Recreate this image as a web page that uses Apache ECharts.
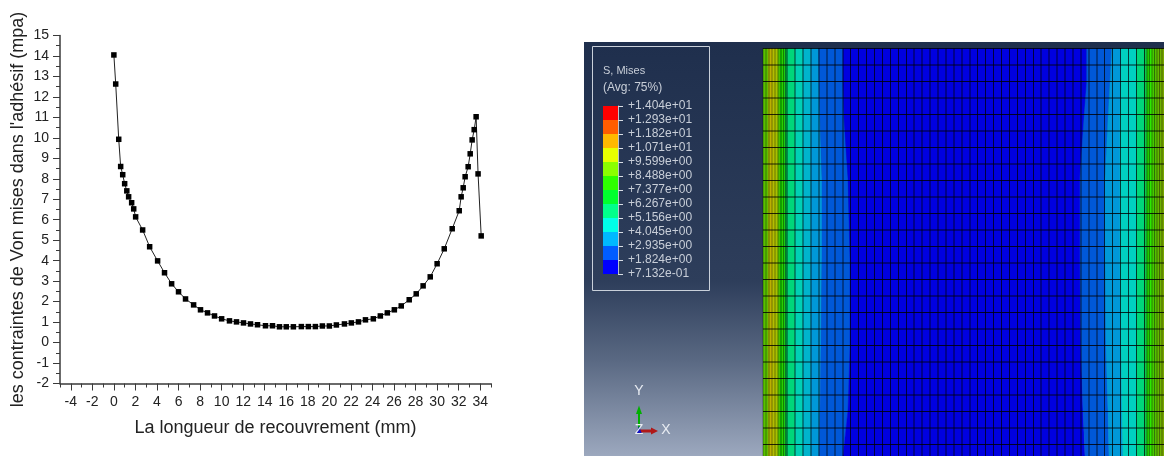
<!DOCTYPE html>
<html><head><meta charset="utf-8">
<style>html,body{margin:0;padding:0;background:#fff}#c{width:1164px;height:456px}</style>
<script src="https://cdn.jsdelivr.net/npm/echarts@6/dist/echarts.min.js"></script>
</head><body><div id="c"></div>
<script>
// ---- stress curve
const overlapMm = [0,0.17,0.45,0.63,0.82,1.0,1.2,1.37,1.65,1.84,2.02,2.67,3.32,4.06,4.7,5.36,6.0,6.65,7.4,8.04,8.69,9.34,10.0,10.73,11.38,12.03,12.68,13.33,14.07,14.72,15.37,16.0,16.66,17.4,18.05,18.7,19.35,20.0,20.65,21.4,22.04,22.7,23.35,24.08,24.73,25.38,26.03,26.67,27.41,28.06,28.7,29.36,30.0,30.66,31.4,32.05,32.23,32.42,32.6,32.88,33.07,33.25,33.44,33.62,33.8,34.09];
const misesMpa = [14.05,12.63,9.93,8.6,8.2,7.76,7.41,7.12,6.83,6.53,6.14,5.5,4.68,3.99,3.41,2.87,2.48,2.13,1.84,1.6,1.45,1.3,1.16,1.06,1.01,0.96,0.91,0.87,0.82,0.82,0.77,0.77,0.77,0.78,0.78,0.78,0.81,0.81,0.86,0.91,0.96,1.01,1.11,1.16,1.3,1.45,1.6,1.79,2.09,2.38,2.77,3.21,3.85,4.58,5.56,6.44,7.12,7.56,8.1,8.59,9.22,9.9,10.4,11.03,8.24,5.21];
const xMajorTicks = [-4,-2,0,2,4,6,8,10,12,14,16,18,20,22,24,26,28,30,32,34];
const xMinorTicks = [-5,-3,-1,1,3,5,7,9,11,13,15,17,19,21,23,25,27,29,31,33,35];
const xTitle = "La longueur de recouvrement (mm)";
const yTitle = "les contraintes de Von mises dans l'adhésif (mpa)";

// ---- contour legend
const legendTitle = ["S, Mises","(Avg: 75%)"];
const legendLabels = ["+1.404e+01","+1.293e+01","+1.182e+01","+1.071e+01","+9.599e+00","+8.488e+00","+7.377e+00","+6.267e+00","+5.156e+00","+4.045e+00","+2.935e+00","+1.824e+00","+7.132e-01"];
const legendColors = ["#ff0000","#ff5d00","#ffb900","#e8ff00","#8bff00","#2eff00","#00ff2e","#00ff8b","#00ffe8","#00b9ff","#005dff","#0000ff"];

// ---- contour field: stations along the joint, band edges across it
const stations = [0,35,70,130,210,300,362,408];
const bandEdges = [0,5,7,9,12,15,17,19,21,22.5,24,
  32,40,48,
  [55.7,56,57,59,59,58,57,56],
  [80,80,81,85,87,87,85,80],
  [323.7,323.7,321,317,317,318,320,322],
  [348.7,347,345,342,342,343,345,346],
  [358,358,357,357,357,358,359,360],
  373.7,381.7,
  384,386.5,389,391.5,394,396.5,399,401];
const bandColors = ["#58c000","#9cb400","#bcb000","#b4bc00","#a8c000","#58c000","#14c000","#28d000","#18cc14","#00cc48",
  "#00d67a","#00d0b4","#00b4cc","#0098d8","#0058d8","#0000e0","#0058d8","#0098d8","#00d0c0","#00d67a",
  "#10c848","#20cc00","#30e800","#44cc00","#54c000","#64b800","#70b000","#78a800"];
const meshColumns = [24,32,40,48,56,64,72,80,87.5,95.5,103.5,111.5,119.5,127.5,135.5,143.5,151,159,167,175,183,191,199,207,214.5,222.5,230.5,238.5,246.5,254.5,262.5,270.5,278,286,294,302,310,318,326,334,341.5,349.5,357.5,365.5,373.5,381.5];
const meshFine = [0,3,6,9,12,15,18,20.5,22.5,384,386.5,389,391.5,394,396.5,399];
const meshRows = [0,16.5,33,49.5,66,82.5,99,115.5,132,148.5,165,181.5,198,214.5,231,247.5,264,280.5,297,313.5,330,346.5,363,379.5,396];

const edgeAt = (i, s) => Array.isArray(bandEdges[i]) ? bandEdges[i][s] : bandEdges[i];

function renderBand(params, api) {
  const i = api.value(0), pts = [];
  for (let s = 0; s < stations.length; s++) pts.push(api.coord([edgeAt(i, s), stations[s]]));
  for (let s = stations.length - 1; s >= 0; s--) pts.push(api.coord([edgeAt(i + 1, s), stations[s]]));
  return {type:'polygon', shape:{points:pts}, style:{fill:bandColors[i], stroke:bandColors[i], lineWidth:0.4}};
}
function renderVLine(alpha) {
  return (params, api) => {
    const a = api.coord([api.value(0), 0]), b = api.coord([api.value(0), 408]);
    return {type:'line', shape:{x1:a[0],y1:a[1],x2:b[0],y2:b[1]}, style:{stroke:'rgba(0,0,0,'+alpha+')', lineWidth:1}};
  };
}
function renderHLine(params, api) {
  const a = api.coord([0, api.value(0)]), b = api.coord([401, api.value(0)]);
  return {type:'line', shape:{x1:a[0],y1:a[1]+0.5,x2:b[0],y2:b[1]+0.5}, style:{stroke:'rgba(0,0,0,0.82)', lineWidth:1}};
}
function renderSwatch(params, api) {
  const i = api.value(0), a = api.coord([0,i]), b = api.coord([1,i+1]);
  return {type:'rect', shape:{x:a[0],y:a[1],width:b[0]-a[0],height:b[1]-a[1]}, style:{fill:legendColors[i]}};
}

const txt = (x,y,t,size,fill,align) => ({type:'text', x, y, z:10, style:{text:t, fill:fill||'#c8ced8', font:(size||11)+'px "Liberation Sans"', textVerticalAlign:'middle', textAlign:align||'left'}});
const axisCol = '#3a3a3a', labelCol = '#222';
const labelFont = {fontFamily:'"Liberation Sans"', fontSize:14, color:labelCol};

const cs = (x,y) => ({coordinateSystem:'cartesian2d', xAxisIndex:x, yAxisIndex:y, silent:true, animation:false});

const chart = echarts.init(document.getElementById('c'), null, {renderer:'canvas'});
chart.setOption({
  animation:false,
  backgroundColor:'#fff',
  graphic:{elements:[
    {type:'rect', z:-1, shape:{x:584,y:42,width:580,height:414},
      style:{fill:new echarts.graphic.LinearGradient(0,0,0,1,[
        {offset:0,color:'#1f2f4d'},{offset:0.58,color:'#2e3e5b'},{offset:0.77,color:'#5a6983'},{offset:1,color:'#9ca8be'}])}},
    {type:'rect', z:9, shape:{x:592.5,y:46.5,width:117,height:244}, style:{fill:'none',stroke:'#c9d0da',lineWidth:1}},
    txt(603,71,legendTitle[0],11), txt(603,88,legendTitle[1],12),
    {type:'line', z:10, shape:{x1:639,y1:430,x2:639,y2:412}, style:{stroke:'#00b000',lineWidth:2}},
    {type:'polygon', z:10, shape:{points:[[639,405.5],[636,414],[642,414]]}, style:{fill:'#00b000'}},
    {type:'line', z:10, shape:{x1:640,y1:431,x2:652,y2:431}, style:{stroke:'#b01818',lineWidth:3}},
    {type:'polygon', z:10, shape:{points:[[658,431],[651,427.5],[651,434.5]]}, style:{fill:'#b01818'}},
    {type:'polygon', z:10, shape:{points:[[636,434],[639,426],[642,434]]}, style:{fill:'#1010c0'}},
    txt(639,391.5,'Y',14,'#e8ecf2','center'), txt(666,430,'X',14,'#e8ecf2','center'), txt(639,430,'Z',14,'#e8ecf2','center')
  ]},
  grid:[
    {left:60, top:35.5, width:431, height:348, containLabel:false},
    {left:763, top:48, width:401, height:408},
    {left:603, top:106, width:15, height:168}
  ],
  xAxis:[
    {gridIndex:0, type:'value', min:-5, max:35, splitLine:{show:false}, position:'bottom',
      name:xTitle, nameLocation:'middle', nameGap:35.5, nameTextStyle:{fontFamily:'"Liberation Sans"',fontSize:18,color:labelCol},
      axisLine:{show:true,onZero:false,lineStyle:{color:axisCol,width:1.5}},
      axisTick:{show:true,length:7,customValues:xMajorTicks,lineStyle:{color:axisCol,width:1}},
      axisLabel:{show:true,customValues:xMajorTicks,margin:12,formatter:v=>String(v),...labelFont}},
    {gridIndex:0, type:'value', min:-5, max:35, splitLine:{show:false}, position:'bottom',
      axisLine:{show:false,onZero:false},
      axisTick:{show:true,length:4,customValues:xMinorTicks,lineStyle:{color:axisCol,width:1}},
      axisLabel:{show:false}},
    {gridIndex:1, type:'value', min:0, max:401, show:false},
    {gridIndex:2, type:'value', min:0, max:1, show:false}
  ],
  yAxis:[
    {gridIndex:0, type:'value', min:-2, max:15, interval:1, splitLine:{show:false},
      name:yTitle, nameLocation:'middle', nameGap:33, nameTextStyle:{fontFamily:'"Liberation Sans"',fontSize:18,color:labelCol},
      axisLine:{show:true,onZero:false,lineStyle:{color:axisCol,width:1.5}},
      axisTick:{show:true,length:7,lineStyle:{color:axisCol,width:1}},
      minorTick:{show:true,splitNumber:2,length:4,lineStyle:{color:axisCol,width:1}},
      axisLabel:{margin:11,showMinLabel:true,showMaxLabel:true,...labelFont}},
    {gridIndex:0, type:'value', min:-2, max:15, show:false},
    {gridIndex:1, type:'value', min:0, max:408, inverse:true, show:false},
    {gridIndex:2, type:'value', min:0, max:12, interval:1, inverse:true, position:'right', splitLine:{show:false},
      axisLine:{show:true,onZero:false,lineStyle:{color:'#b8c0cc',width:1}},
      axisTick:{show:true,length:5,lineStyle:{color:'#d8dde4',width:1}},
      axisLabel:{margin:10,fontFamily:'"Liberation Sans"',fontSize:12,color:'#c8ced8',showMinLabel:true,showMaxLabel:true,
        formatter:v=>legendLabels[v]}}
  ],
  series:[
    {type:'custom', ...cs(2,2), renderItem:renderBand, data:bandColors.map((c,i)=>[i]), z:2, clip:true},
    {type:'custom', ...cs(2,2), renderItem:renderVLine(0.38), data:meshFine.map(v=>[v]), z:3},
    {type:'custom', ...cs(2,2), renderItem:renderVLine(0.72), data:meshColumns.map(v=>[v]), z:3},
    {type:'custom', ...cs(2,2), renderItem:renderHLine, data:meshRows.map(v=>[v]), z:4},
    {type:'custom', ...cs(3,3), renderItem:renderSwatch, data:legendColors.map((c,i)=>[i]), z:2},
    {type:'line', ...cs(0,0), data:overlapMm.map((x,i)=>[x,misesMpa[i]]),
      symbol:'rect', symbolSize:5.5, showSymbol:true, showAllSymbol:true, z:3,
      lineStyle:{color:'#222',width:1}, itemStyle:{color:'#000'}}
  ]
});
</script></body></html>
